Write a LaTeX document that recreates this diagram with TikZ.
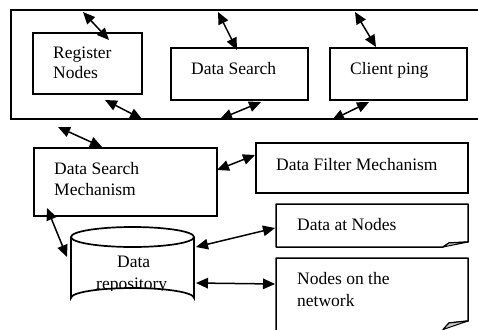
\documentclass[tikz,border=0pt]{standalone}
\usepackage{fontspec}
\setmainfont{Liberation Serif}
\usetikzlibrary{arrows.meta}
\tikzset{
  box/.style={draw, line width=1.7pt, fill=white, inner sep=0pt},
  lbl/.style={anchor=base west, inner sep=0pt, font=\fontsize{17.5}{20}\selectfont},
  link/.style={line width=1.5pt, {Triangle[length=12pt,width=10.5pt]}-{Triangle[length=12pt,width=10.5pt]}},
  doc/.style={draw, line width=1.5pt, fill=white, line join=round},
  fold/.style={draw, line width=1pt, fill=gray!45, line join=round}
}
\begin{document}
\begin{tikzpicture}[x=1pt,y=-1pt]
\useasboundingbox (0,0) rectangle (478,329);
\clip (0,0) rectangle (478,329);
\fill[white] (0,0) rectangle (478,329);

% outer frame (right side beyond the picture)
\node[box, minimum width=479, minimum height=109] (outer) at (250.5,64.5) {};

% boxes
\node[box, minimum width=109, minimum height=61] (reg) at (87.5,63.5) {};
\node[box, minimum width=137, minimum height=52] (ds) at (239.5,74) {};
\node[box, minimum width=137, minimum height=52] (cp) at (398.5,74) {};
\node[box, minimum width=183, minimum height=68] (dsm) at (125.5,182) {};
\node[box, minimum width=212, minimum height=50] (dfm) at (362,168) {};

% documents
\draw[doc] (276,204) -- (468,204) -- (468,242) -- (449,243) -- (443,247) -- (276,247) -- cycle;
\draw[fold] (443,247) -- (468,242) -- (449,243) -- cycle;
\node[inner sep=0pt, minimum width=192, minimum height=43] (dan) at (372,225.5) {};
\draw[doc] (276,330) -- (276,258) -- (468,258) -- (468,321) -- (449,323) -- (443,330);
\draw[fold] (443,329.5) -- (468,321) -- (449,323) -- cycle;
\node[inner sep=0pt, minimum width=192, minimum height=71] (non) at (372,293.5) {};

% cylinder
\draw[line width=1.7pt, fill=white] (71,237) -- (71,298)
  arc[start angle=180, end angle=360, x radius=61.5, y radius=10] -- (194,237);
\draw[line width=1.7pt, fill=white] (132.5,237) ellipse[x radius=61.5, y radius=10];
\node[inner sep=0pt, minimum width=123, minimum height=81] (repo) at (132.5,267.5) {};

% labels
\node[lbl] (regA) at (53,59) {Register};
\node[lbl] (regB) at (53,78) {Nodes};
\node[lbl] (dsT) at (191,74) {Data Search};
\node[lbl] (cpT) at (350,74) {Client ping};
\node[lbl] (dsmA) at (54,174) {Data Search};
\node[lbl] (dsmB) at (54,195) {Mechanism};
\node[lbl] (dfmT) at (276,170) {Data Filter Mechanism};
\node[lbl] (danT) at (297,230) {Data at Nodes};
\node[lbl] (nonA) at (297,284) {Nodes on the};
\node[lbl] (nonB) at (297,306) {network};
\node[lbl] (repoA) at (117,267) {Data};
\begin{scope}
\clip (80,265) rectangle (185,290.5);
\node[lbl] (repoB) at (96,289) {repository};
\end{scope}

% connector end points
\coordinate (o1) at (83,12);   \coordinate (r1) at (109,40);
\coordinate (o2) at (218,12);  \coordinate (d1) at (237,50);
\coordinate (o3) at (355,12);  \coordinate (c1) at (376,47);
\coordinate (r2) at (105,100); \coordinate (o4) at (142,119);
\coordinate (d2) at (261,102); \coordinate (o5) at (220,119);
\coordinate (c2) at (369,102); \coordinate (o6) at (332,120);
\coordinate (o7) at (58,127);  \coordinate (m1) at (102,147);
\coordinate (m2) at (217,170); \coordinate (f1) at (255,155);
\coordinate (m3) at (47,208);  \coordinate (p1) at (67,257);
\coordinate (p2) at (196,247); \coordinate (a1) at (275,228);
\coordinate (p3) at (196,283); \coordinate (n1) at (275,284);

% connectors
\draw[link] (o1) -- (r1);
\draw[link] (o2) -- (d1);
\draw[link] (o3) -- (c1);
\draw[link] (r2) -- (o4);
\draw[link] (d2) -- (o5);
\draw[link] (c2) -- (o6);
\draw[link] (o7) -- (m1);
\draw[link] (m2) -- (f1);
\draw[link] (m3) -- (p1);
\draw[link] (p2) -- (a1);
\draw[link] (p3) -- (n1);
\end{tikzpicture}
\end{document}
